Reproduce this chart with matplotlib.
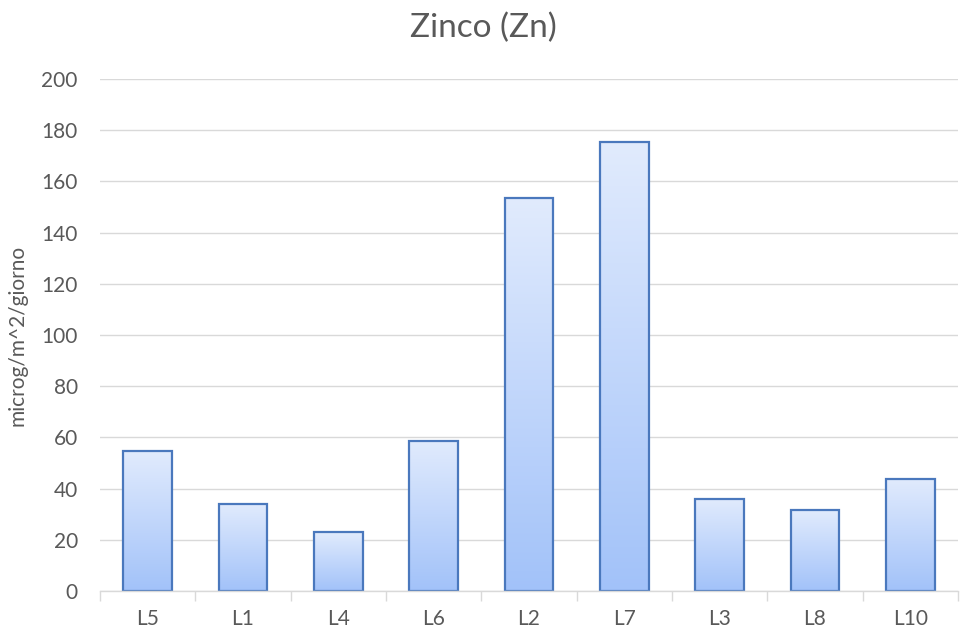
import numpy as np
import matplotlib
matplotlib.use("Agg")
import matplotlib.pyplot as plt
from matplotlib.colors import LinearSegmentedColormap

categories = ["L5", "L1", "L4", "L6", "L2", "L7", "L3", "L8", "L10"]
values = [54.5, 34.1, 22.9, 58.7, 153.5, 175.3, 36.0, 31.5, 43.8]
yticks = [0, 20, 40, 60, 80, 100, 120, 140, 160, 180, 200]

plt.rcParams['font.family'] = ['Lato', 'DejaVu Sans']
txt = '#595959'

fig = plt.figure(figsize=(9.61, 6.35), dpi=100)
ax = fig.add_axes([100/961, (635-591)/635, (958-100)/961, (591-79)/635])

x = np.arange(len(categories))
width = 0.51
bars = ax.bar(x, values, width=width, facecolor='none', edgecolor='#4a78bd',
              linewidth=1.6, zorder=4)

cmap = LinearSegmentedColormap.from_list('g', ['#a2c2f9', '#e1ebfd'])
grad = np.linspace(0, 1, 256).reshape(-1, 1)
for b in bars:
    x0, y0 = b.get_x(), b.get_y()
    w, h = b.get_width(), b.get_height()
    ax.bar(x0 + w/2 + 0.012, h, width=w, bottom=-1.0, color='#000000', alpha=0.08,
           zorder=2, linewidth=0)
    im = ax.imshow(grad, extent=[x0, x0 + w, y0, y0 + h], origin='lower',
                   cmap=cmap, aspect='auto', zorder=3)
    im.set_clip_path(b)

ax.set_xlim(-0.5, len(categories) - 0.5)
ax.set_ylim(0, 200)
ax.set_yticks(yticks)
ax.set_xticks(x)
ax.set_xticklabels(categories)
ax.set_xticks(np.arange(-0.5, len(categories), 1), minor=True)
ax.tick_params(axis='x', which='major', length=0, pad=13, labelsize=15, labelcolor=txt)
ax.tick_params(axis='x', which='minor', length=7, color='#d9d9d9', width=1)
ax.tick_params(axis='y', length=0, pad=16, labelsize=15, labelcolor=txt)
ax.grid(axis='y', color='#d9d9d9', linewidth=1, zorder=0)
ax.set_axisbelow(True)
for s in ['top', 'right', 'left']:
    ax.spines[s].set_visible(False)
ax.spines['bottom'].set_color('#d9d9d9')
ax.spines['bottom'].set_linewidth(1)
ax.spines['bottom'].set_zorder(5)

ax.set_ylabel('microg/m^2/giorno', fontsize=15, color=txt)
ax.yaxis.set_label_coords(-72/858, 0.5)
fig.text(483/961, 1 - 28/635, 'Zinco (Zn)', ha='center', va='center', fontsize=24, color=txt)

fig.savefig('out.png', dpi=100)
